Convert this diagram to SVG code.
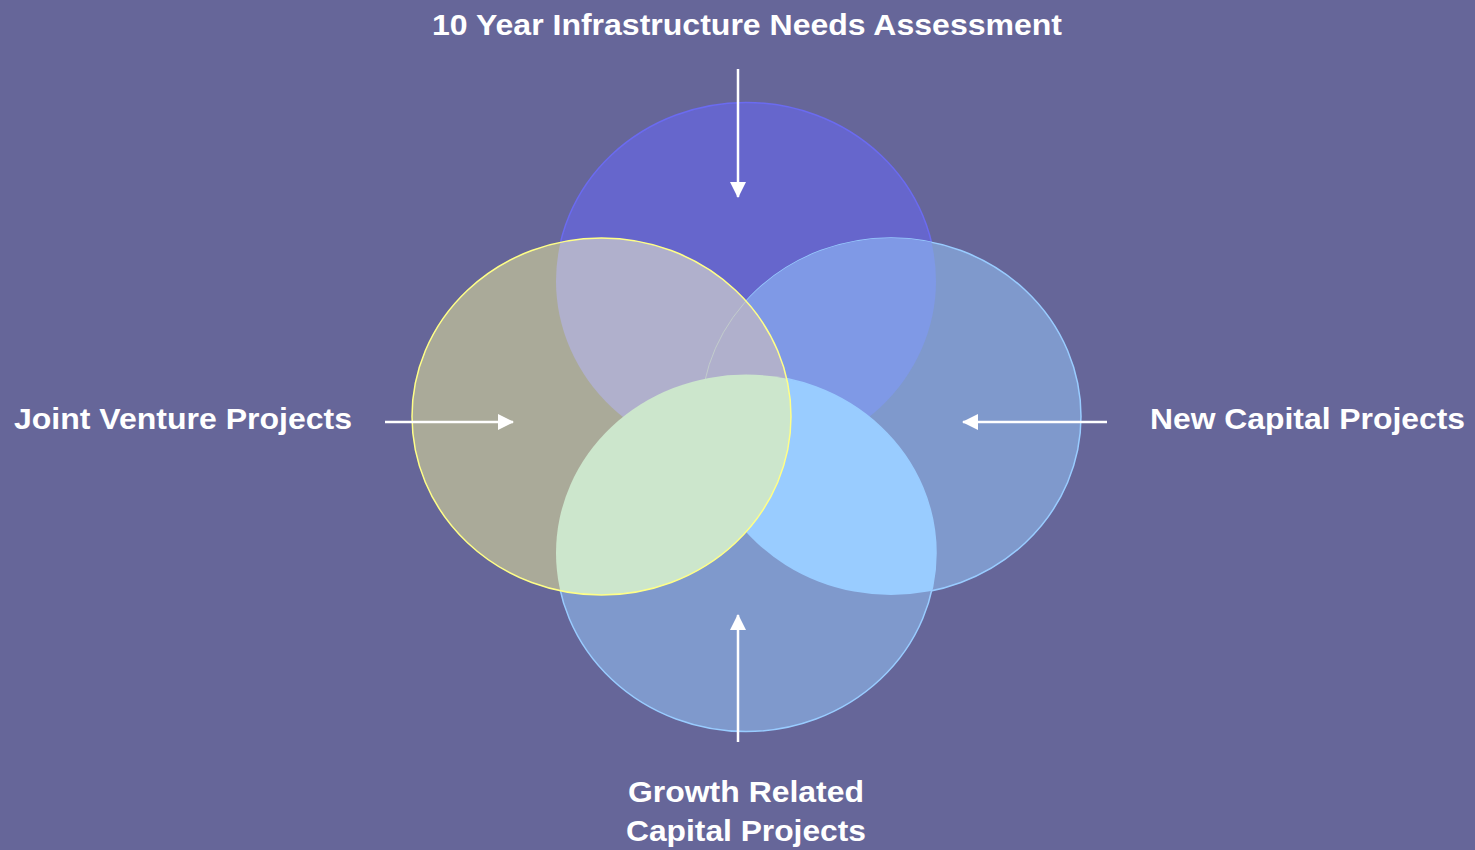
<svg xmlns="http://www.w3.org/2000/svg" width="1475" height="850" viewBox="0 0 1475 850">
<defs>
<ellipse id="eTop" cx="746" cy="281" rx="190" ry="178.5"/>
<ellipse id="eLeft" cx="601.5" cy="416.5" rx="189.5" ry="178.5"/>
<ellipse id="eRight" cx="891" cy="416.5" rx="190" ry="178.5"/>
<ellipse id="eBottom" cx="746" cy="553" rx="190" ry="178.5"/>
<clipPath id="cTop"><use href="#eTop"/></clipPath>
<clipPath id="cLeft"><use href="#eLeft"/></clipPath>
<clipPath id="cRight"><use href="#eRight"/></clipPath>
<clipPath id="cBottom"><use href="#eBottom"/></clipPath>
<marker id="ah" viewBox="0 0 16 16" refX="15" refY="8" markerWidth="16" markerHeight="16" markerUnits="userSpaceOnUse" orient="auto">
<path d="M0,0 L16,8 L0,16 Z" fill="#ffffff"/>
</marker>
</defs>
<style>
.lbl{font-family:"Liberation Sans",Arial,sans-serif;font-weight:bold;fill:#ffffff;font-size:30px}
.arr{stroke:#ffffff;stroke-width:2.5;fill:none}
</style>
<rect x="0" y="0" width="1475" height="850" fill="#666699"/>
<g id="node-top">
<use href="#eTop" fill="#6666cc" stroke="#6b6bf0" stroke-width="1.5"/>
</g>
<g id="node-right">
<use href="#eRight" fill="#7f99cc" stroke="#99ccff" stroke-width="1.5"/>
<use href="#eTop" fill="#7f99e6" clip-path="url(#cRight)"/>
</g>
<g id="node-bottom">
<use href="#eBottom" fill="#7f99cc" stroke="#99ccff" stroke-width="1.5"/>
<use href="#eRight" fill="#99ccff" clip-path="url(#cBottom)"/>
</g>
<g id="node-left">
<use href="#eLeft" fill="#aaaa99"/>
<use href="#eTop" fill="#b0b0cc" clip-path="url(#cLeft)"/>
<use href="#eRight" fill="none" stroke="#c2cccc" stroke-width="1" clip-path="url(#cLeft)"/>
<use href="#eBottom" fill="#cce6cc" clip-path="url(#cLeft)"/>
<use href="#eLeft" fill="none" stroke="#ffff88" stroke-width="1.5"/>
</g>
<g id="connectors">
<line class="arr" x1="738" y1="69" x2="738" y2="197" marker-end="url(#ah)"/>
<line class="arr" x1="738" y1="742" x2="738" y2="615" marker-end="url(#ah)"/>
<line class="arr" x1="385" y1="422" x2="513" y2="422" marker-end="url(#ah)"/>
<line class="arr" x1="1107" y1="422" x2="963" y2="422" marker-end="url(#ah)"/>
</g>
<g id="label-top"><text class="lbl" x="432" y="35" textLength="630" lengthAdjust="spacingAndGlyphs">10 Year Infrastructure Needs Assessment</text></g>
<g id="label-left"><text class="lbl" x="14" y="429" textLength="338" lengthAdjust="spacingAndGlyphs">Joint Venture Projects</text></g>
<g id="label-right"><text class="lbl" x="1150" y="429" textLength="315" lengthAdjust="spacingAndGlyphs">New Capital Projects</text></g>
<g id="label-bottom">
<text class="lbl" x="628" y="802" textLength="236" lengthAdjust="spacingAndGlyphs">Growth Related</text>
<text class="lbl" x="626" y="841" textLength="240" lengthAdjust="spacingAndGlyphs">Capital Projects</text>
</g>
</svg>
